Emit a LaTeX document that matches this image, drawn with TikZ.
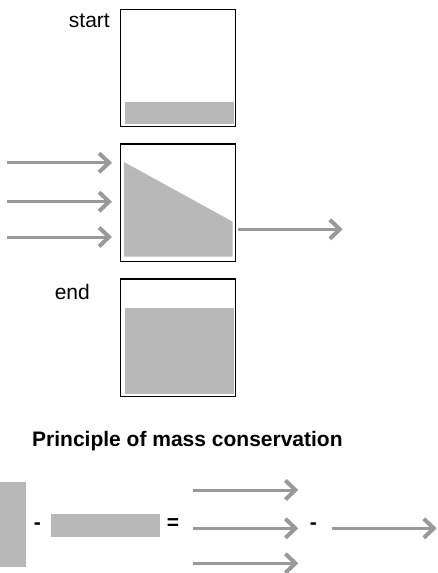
\documentclass[tikz,border=0pt]{standalone}
\usepackage{fontspec}
\setmainfont{Liberation Sans}
\usetikzlibrary{arrows.meta}
\definecolor{watergray}{HTML}{B8B8B8}
\definecolor{flowgray}{HTML}{999999}
\tikzset{
	tank/.style={draw, line width=1.5pt, minimum width=114.6pt, minimum height=117.4pt, inner sep=0pt},
	flow/.style={line width=3pt, color=flowgray, -{Straight Barb[length=10pt,width=19pt,line width=4pt]}},
	label/.style={inner sep=0pt, font=\fontsize{21}{24}\selectfont},
	sign/.style={inner sep=0pt, font=\fontsize{21}{24}\selectfont\bfseries}
}

\begin{document}
\begin{tikzpicture}[x=1pt, y=-1pt]
		%%%%% START %%%%%
		\useasboundingbox (0, 0) rectangle (438, 573);
		
		% tank at start
		\fill[watergray] (125, 102) rectangle (234, 124.3);
		\node[tank] (start tank) at (178, 68) {};
		\node[label, anchor=base east] (start label) at (110, 27.3) {start};
		
		% tank while filling
		\fill[watergray] (124, 162) -- (232.7, 221.7) -- (232.7, 256.7) -- (124, 256.7) -- cycle;
		\node[tank] (fill tank) at (178, 202.9) {};
		\coordinate (in a) at (7, 162.7);
		\coordinate (in b) at (7, 201.7);
		\coordinate (in c) at (7, 237);
		\coordinate (out end) at (342.7, 229.3);
		\draw[flow, shorten >=8pt] (in a) -- (in a -| fill tank.west);
		\draw[flow, shorten >=8pt] (in b) -- (in b -| fill tank.west);
		\draw[flow, shorten >=8pt] (in c) -- (in c -| fill tank.west);
		\draw[flow, shorten <=2pt] (out end -| fill tank.east) -- (out end);
		
		% tank at end
		\fill[watergray] (125, 307.7) rectangle (234.3, 394);
		\node[tank] (end tank) at (178, 337.9) {};
		\node[label, anchor=base east] (end label) at (90, 299.3) {end};
		
		% balance
		\node[sign, anchor=base west] (title) at (32, 446.7) {Principle of mass conservation};
		
		\fill[watergray] (0, 482) rectangle (25.7, 566.7);
		\node[sign] (minus a) at (37.3, 526.5) {-};
		\fill[watergray] (51, 514.3) rectangle (160, 536.7);
		\node[sign] (equals) at (173, 524.5) {=};
		
		\coordinate (sum a) at (193.3, 490);
		\coordinate (sum b) at (193.3, 528.3);
		\coordinate (sum c) at (193.3, 563.3);
		\coordinate (sum a end) at (298.3, 490);
		\coordinate (sum b end) at (298.3, 528.3);
		\coordinate (sum c end) at (298.3, 563.3);
		\draw[flow] (sum a) -- (sum a end);
		\draw[flow] (sum b) -- (sum b end);
		\draw[flow] (sum c) -- (sum c end);
		
		\node[sign] (minus b) at (313.3, 526.5) {-};
		\coordinate (loss) at (332.3, 528.3);
		\coordinate (loss end) at (436.7, 528.3);
		\draw[flow] (loss) -- (loss end);
		
		%%%%% END %%%%%
	\end{tikzpicture}
\end{document}
